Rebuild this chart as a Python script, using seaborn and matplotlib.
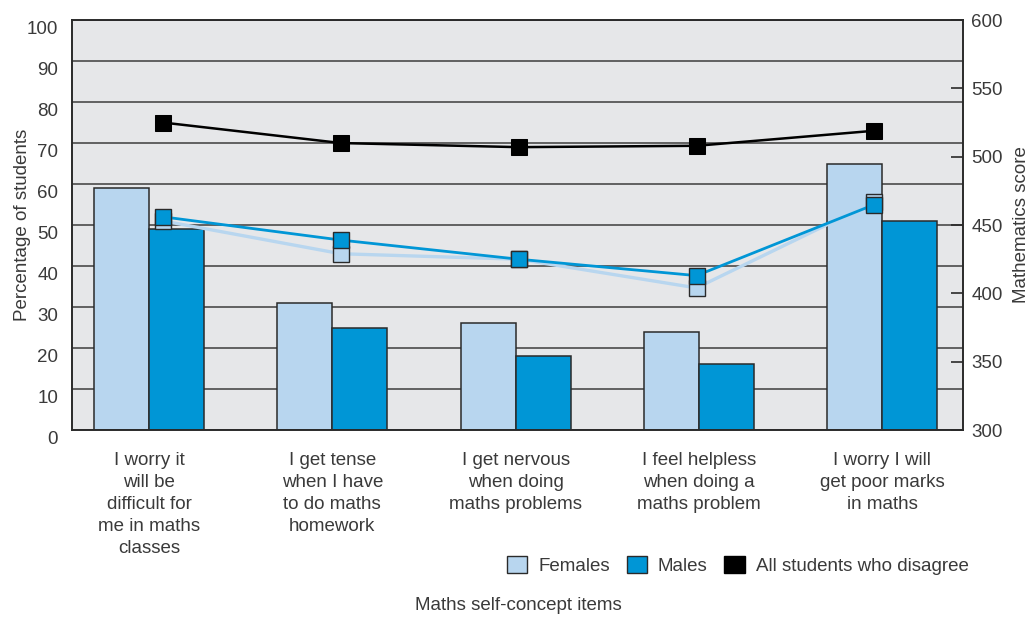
### DEPENDENCIES ###
import numpy as np
import pandas as pd
import matplotlib
matplotlib.use('Agg')
import matplotlib.pyplot as plt
import matplotlib.transforms as mtransforms
from matplotlib.patches import Patch
import seaborn as sns

### DATA ###
items = ['I worry it\nwill be\ndifficult for\nme in maths\nclasses',
         'I get tense\nwhen I have\nto do maths\nhomework',
         'I get nervous\nwhen doing\nmaths problems',
         'I feel helpless\nwhen doing a\nmaths problem',
         'I worry I will\nget poor marks\nin maths']
pct_females = [59, 31, 26, 24, 65]   # percentage of students (left axis)
pct_males = [49, 25, 18, 16, 51]
score_females = [453, 429, 425, 404, 467]   # mathematics score (right axis)
score_males = [456, 439, 425, 413, 465]
score_disagree = [525, 510, 507, 508, 519]

FEM_COL = '#b8d6ef'
MAL_COL = '#0096d6'
EDGE = '#2a2a2a'
TXT = '#3a3a3a'
FS = 13.5

bars = pd.DataFrame({'item': items * 2,
                     'sex': ['Females'] * 5 + ['Males'] * 5,
                     'pct': pct_females + pct_males})

### PLOT ###
sns.set_theme(style='white')
plt.rcParams['font.family'] = ['Liberation Sans', 'DejaVu Sans']

fig = plt.figure(figsize=(10.32, 6.17), dpi=100)
ax = fig.add_axes([0.0698, 0.303, 0.8632, 0.6645])
ax.set_facecolor('#e6e7e9')

sns.barplot(data=bars, x='item', y='pct', hue='sex', hue_order=['Females', 'Males'],
            palette=[FEM_COL, MAL_COL], width=0.6, saturation=1, edgecolor=EDGE,
            linewidth=1.1, legend=False, ax=ax)

ax.set_ylim(0, 100)
ax.set_yticks(np.arange(0, 101, 10))
ax.set_axisbelow(True)
ax.yaxis.grid(True, color='#4a4a4a', lw=1.2)
ax.set_xlabel('')
ax.set_ylabel('Percentage of students', fontsize=FS, color=TXT, labelpad=-3)
ax.tick_params(axis='y', length=0, pad=10, labelsize=FS, labelcolor=TXT)
ax.tick_params(axis='x', which='major', length=0, pad=16, labelsize=FS, labelcolor=TXT)
for lab in ax.get_xticklabels():
    lab.set_linespacing(1.38)
ax.set_xticks([0.5, 1.5, 2.5, 3.5], minor=True)
ax.tick_params(axis='x', which='minor', direction='in', length=7, width=1.2, color=EDGE)

# left labels sit a little below their gridlines
offset = mtransforms.ScaledTranslation(0, -0.07, fig.dpi_scale_trans)
for lab in ax.get_yticklabels():
    lab.set_transform(lab.get_transform() + offset)

# score lines on the right axis
ax2 = ax.twinx()
line_x = 0.077 + np.arange(len(items)) * 0.97   # line points are spread slightly narrower than the bars
sns.lineplot(x=line_x, y=score_females, color=FEM_COL, lw=2.4, marker='s', markersize=11,
             markeredgecolor=EDGE, markeredgewidth=1, ax=ax2)
sns.lineplot(x=line_x, y=score_males, color=MAL_COL, lw=2, marker='s', markersize=11,
             markeredgecolor=EDGE, markeredgewidth=1, ax=ax2)
sns.lineplot(x=line_x, y=score_disagree, color='black', lw=1.8, marker='s', markersize=12,
             markeredgecolor='black', ax=ax2)
ax2.set_ylim(300, 600)
ax2.set_yticks(np.arange(300, 601, 50))
ax2.tick_params(axis='y', direction='in', length=8.5, width=1.2, color=EDGE, pad=6,
                labelsize=FS, labelcolor=TXT)
ax2.set_ylabel('Mathematics score', fontsize=FS, color=TXT, labelpad=7.5)
ax.set_xlim(-0.42, 4.44)

for a in (ax, ax2):
    for s in a.spines.values():
        s.set_color(EDGE)
        s.set_linewidth(1.2)

handles = [Patch(facecolor=FEM_COL, edgecolor=EDGE, lw=1, label='Females'),
           Patch(facecolor=MAL_COL, edgecolor=EDGE, lw=1, label='Males'),
           Patch(facecolor='black', edgecolor='black', lw=1, label='All students who disagree')]
fig.legend(handles=handles, loc='center right', bbox_to_anchor=(0.955, 0.084), ncol=3,
           frameon=False, handlelength=1.07, handleheight=1.07, handletextpad=0.6,
           columnspacing=0.9, fontsize=FS, labelcolor=TXT)

fig.text(0.502, 0.018, 'Maths self-concept items', ha='center', va='center',
         fontsize=FS, color=TXT)

plt.savefig('out.png', dpi=100)
